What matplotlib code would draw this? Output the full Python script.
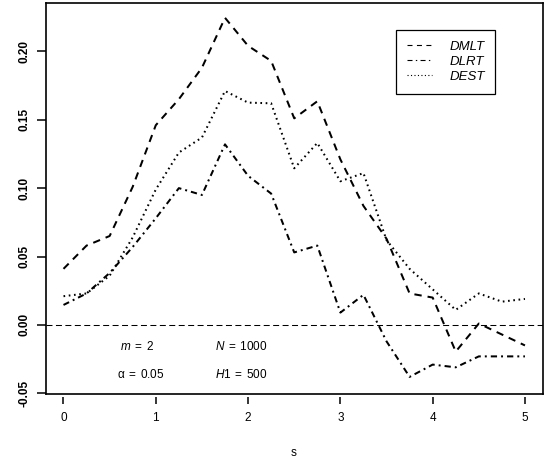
import matplotlib
matplotlib.use("Agg")
import matplotlib.pyplot as plt
from matplotlib.lines import Line2D

# data
s = [0, 0.25, 0.5, 0.75, 1, 1.25, 1.5, 1.75, 2, 2.25, 2.5,
     2.75, 3, 3.25, 3.5, 3.75, 4, 4.25, 4.5, 4.75, 5]
dmlt = [0.041, 0.058, 0.065, 0.101, 0.146, 0.165, 0.188, 0.2245, 0.204, 0.193, 0.151,
        0.1635, 0.121, 0.087, 0.063, 0.023, 0.020, -0.0195, 0.001, -0.007, -0.015]
dlrt = [0.0146, 0.023, 0.038, 0.057, 0.078, 0.100, 0.095, 0.132, 0.109, 0.096, 0.053,
        0.058, 0.009, 0.022, -0.012, -0.038, -0.029, -0.031, -0.023, -0.023, -0.023]
dest = [0.021, 0.023, 0.036, 0.064, 0.099, 0.126, 0.137, 0.171, 0.1625, 0.162, 0.1145,
        0.133, 0.105, 0.111, 0.062, 0.041, 0.026, 0.011, 0.023, 0.017, 0.019]
names = ["DMLT", "DLRT", "DEST"]

plt.rcParams['font.family'] = ['Liberation Sans', 'DejaVu Sans']
plt.rcParams['mathtext.fontset'] = 'custom'
plt.rcParams['mathtext.rm'] = 'Liberation Sans'
plt.rcParams['mathtext.it'] = 'Liberation Sans:italic'
plt.rcParams['lines.scale_dashes'] = False

fig = plt.figure(figsize=(5.45, 4.58), dpi=100)
ax = fig.add_axes([45.5 / 545, (458 - 394) / 458, 497 / 545, 391.5 / 458])

styles = [(0, (5.3, 4.3)), (0, (4.5, 2.9, 1.4, 2.9)), (0, (1.2, 2.6))]
for ys, ls in zip([dmlt, dlrt, dest], styles):
    ax.plot(s, ys, color='black', lw=1.45, linestyle=ls, dash_capstyle='butt')

ax.axhline(0, color='black', lw=0.75, linestyle=(0, (4.3, 2.5)))

ax.set_xlim(-0.195, 5.19)
ax.set_ylim(-0.0505, 0.2357)
ax.set_xticks([0, 1, 2, 3, 4, 5])
ax.set_yticks([-0.05, 0.0, 0.05, 0.10, 0.15, 0.20])
ax.set_yticklabels(["-0.05", "0.00", "0.05", "0.10", "0.15", "0.20"])
ax.tick_params(axis='both', direction='out', length=6.5, width=1.1, labelsize=8.5)
ax.tick_params(axis='x', length=4.8, pad=6)
ax.tick_params(axis='y', pad=4.5)
for lab in ax.get_xticklabels():
    lab.set_fontweight('bold')
for lab in ax.get_yticklabels():
    lab.set_fontweight('bold')
    lab.set_rotation(90)
    lab.set_va('center')

for sp in ax.spines.values():
    sp.set_linewidth(1.2)
# x ticks sit a little below the box, as in the original
ax.spines['bottom'].set_position(('outward', 2))
ax.spines['bottom'].set_visible(False)
ax.plot([0, 1], [0, 0], transform=ax.transAxes, color='black', lw=1.2,
        clip_on=False, solid_capstyle='projecting')

ax.set_xlabel("s", fontsize=8.5, labelpad=17)

ax.text(0.8, -0.016, r'$m\;=\;2$', ha='center', va='center', fontsize=8.5)
ax.text(1.93, -0.016, r'$N\;=\;1000$', ha='center', va='center', fontsize=8.5)
ax.text(0.84, -0.0365, r'$\mathrm{\alpha}\;=\;0.05$', ha='center', va='center', fontsize=8.5)
ax.text(1.93, -0.0365, r'$H1\;=\;500$', ha='center', va='center', fontsize=8.5)

handles = [
    Line2D([], [], color='black', lw=0.8, linestyle=(0, (3.6, 3.2))),
    Line2D([], [], color='black', lw=0.8, linestyle=(0, (3.6, 2.4, 1.0, 2.4))),
    Line2D([], [], color='black', lw=0.8, linestyle=(0, (0.8, 1.7))),
]
leg = ax.legend(handles, names, loc='upper left',
                bbox_to_anchor=(396 / 545, 1 - 30 / 458), bbox_transform=fig.transFigure,
                borderaxespad=0, fancybox=False, framealpha=1, edgecolor='black',
                handlelength=1.95, handletextpad=1.3, labelspacing=0.22,
                borderpad=0.8, prop={'style': 'italic', 'size': 9.5})
leg.get_frame().set_linewidth(0.9)

plt.savefig("out.png", dpi=100)
